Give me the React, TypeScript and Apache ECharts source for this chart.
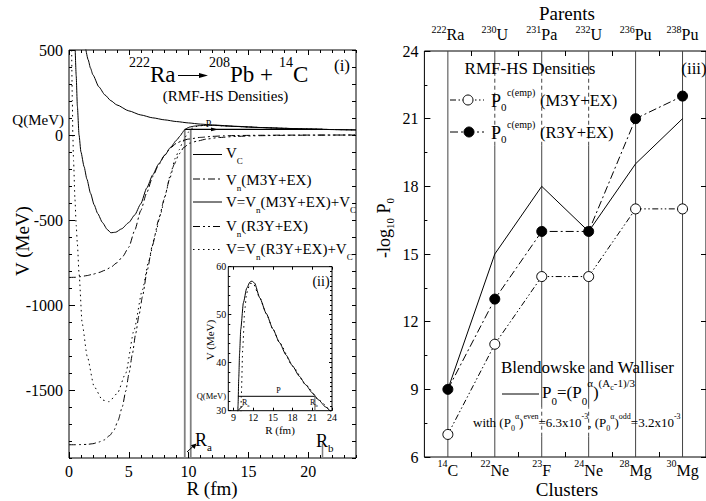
import React, { useEffect, useRef } from 'react';
import * as echarts from 'echarts';

const FONT = "Liberation Serif, Tinos, Times New Roman, DejaVu Serif, serif";

// ---------------- Panel (i): potentials, R (fm) vs V (MeV) ----------------
const vcR = [1.4, 1.6, 1.8, 2, 2.5, 3, 3.5, 4, 5, 6, 7, 8, 9, 10, 11, 12, 14, 16, 18, 20, 22, 24];
const vcV = [506, 443, 393, 354, 283, 236, 202, 177, 142, 118, 101, 89, 79, 71, 64, 59, 51, 44, 39, 35, 32, 30];

const vnM3yR = [0, 0.5, 1, 1.5, 2, 2.5, 3, 3.5, 4, 4.5, 5, 5.5, 6, 6.5, 7, 7.5, 8, 8.5, 9, 9.5, 10, 11, 12, 13, 14, 16, 18, 20, 24];
const vnM3yV = [-838, -837, -833, -827, -819, -809, -796, -778, -752, -714, -660, -560, -445, -340, -245, -175, -118, -75, -48, -32, -24, -14, -8, -5, -3, -1.5, -0.8, -0.4, 0];

const vM3yR = [0.52, 0.6, 0.7, 0.84, 1.0, 1.26, 1.5, 1.8, 2.1, 2.4, 2.8, 3.2, 3.5, 3.9, 4.4, 5.0, 5.5, 6.0, 6.5, 7.0, 7.5, 8.0, 8.5, 9.0, 9.3, 9.5, 9.6, 9.68, 9.8, 9.92, 10.1, 10.5, 11, 11.5, 11.8, 12.2, 13, 14, 15, 16, 17, 18, 19, 20, 21, 22, 23, 24];
const vM3yV = [500, 350, 170, 0, -100, -186, -260, -343, -410, -462, -515, -556, -575, -572, -552, -515, -470, -405, -312, -235, -170, -120, -72, -30, -5, 15, 26, 31, 37, 42, 47, 52.5, 55.5, 56.8, 57, 56.6, 53.5, 50.2, 47, 44.2, 41.6, 39.3, 37.2, 35.4, 33.7, 32.2, 30.8, 29.5];

const vnR3yR = [0, 0.5, 1, 1.5, 2, 2.5, 2.93, 3.4, 3.77, 4.1, 4.46, 4.75, 5.02, 5.3, 5.58, 5.86, 6.14, 6.55, 6.97, 7.5, 7.95, 8.4, 8.8, 9.2, 9.62, 10.1, 10.7, 11.5, 12.5, 14, 16, 18, 20, 24];
const vnR3yV = [-1822, -1822, -1821, -1820, -1816, -1806, -1794, -1768, -1735, -1680, -1598, -1505, -1402, -1288, -1167, -1058, -951, -794, -650, -500, -380, -262, -172, -112, -72, -48, -36, -24, -15, -8, -4, -2, -1, 0];

const vR3yR = [0.22, 0.28, 0.32, 0.38, 0.5, 0.6, 0.7, 0.84, 1.1, 1.53, 2.1, 2.8, 3.35, 4.04, 4.74, 5.44, 6.13, 6.69, 7.2, 7.67, 8.1, 8.5, 8.9, 9.2, 9.5, 9.8, 10.0, 10.18, 10.4, 10.7, 11.0, 11.5, 12, 13, 14, 15, 16, 18, 20, 22, 24];
const vR3yV = [500, 200, 0, -150, -380, -530, -640, -814, -1108, -1304, -1480, -1559, -1569, -1520, -1402, -1147, -912, -735, -590, -461, -340, -225, -135, -88, -45, -5, 18, 33, 43, 51, 54.5, 56.5, 56.5, 53.5, 50.2, 47, 44.2, 39.3, 35.4, 32.2, 29.5];

const Q_VALUE = 33;
const R_A = [9.68, 10.18];
const R_B = 21.2;

const mainXMajor = [0, 5, 10, 15, 20];
const mainYMajor = [-1500, -1000, -500, 0, 500];
const insetXTicks = [9, 12, 15, 18, 21, 24];

// ---------------- Panel (iii): -log10 P0 per cluster ----------------
const clusterMass = ['14', '22', '23', '24', '28', '30'];
const clusterSym = ['C', 'Ne', 'F', 'Ne', 'Mg', 'Mg'];
const parentMass = ['222', '230', '231', '232', '236', '238'];
const parentSym = ['Ra', 'U', 'Pa', 'U', 'Pu', 'Pu'];
const logP0M3Y = [7, 11, 14, 14, 17, 17];
const logP0R3Y = [9, 13, 16, 16, 21, 22];
const logP0BW = [9, 15, 18, 16, 19, 21];
const catPos = [1, 2, 3, 4, 5, 6];

const DASH_DOT = [7, 3, 2, 3];
const DASH_DOT_DOT = [7, 3, 2, 3, 2, 3];
const DOT = [1.5, 3.5];

function pairs(xs: number[], ys: number[]) {
  return xs.map((x, i) => [x, ys[i]]);
}

function curve(xi: number, yi: number, data: number[][], dash: any, opts: any = {}) {
  return {
    type: 'line', xAxisIndex: xi, yAxisIndex: yi, data,
    symbol: 'none', smooth: opts.smooth ?? 0.2, smoothMonotone: 'x', clip: true, silent: true,
    lineStyle: { color: opts.color ?? '#000', width: opts.width ?? 1, type: dash },
    z: opts.z ?? 3,
  };
}

function vAxis(extra: any) {
  return {
    type: 'value',
    axisLine: { show: false, onZero: false },
    splitLine: { show: false },
    axisLabel: { show: false },
    axisTick: { show: false },
    ...extra,
  };
}

const tickStyle = { color: '#000', width: 1 };
const num = (v: number) => String(v);

function richFor(b: number, off: number) {
  const f = Math.round(b * 0.62);
  return {
    lh: 2 * off + f,
    rich: {
      s: { fontSize: f, fontFamily: FONT, fill: '#000', verticalAlign: 'bottom' },
      p: { fontSize: f, fontFamily: FONT, fill: '#000', verticalAlign: 'top' },
      c: { fontSize: Math.round(f * 0.75), fontFamily: FONT, fill: '#000', verticalAlign: 'top', padding: [Math.round(f * 0.55), 0, 0, 0] },
    },
  };
}

function T(x: number, y: number, text: string, size: number, o: any = {}) {
  const hasRich = text.indexOf('{') >= 0;
  const r = richFor(size, o.off ?? Math.round(size * 0.35));
  const style: any = {
    text, fontSize: size, fontFamily: FONT, fill: '#000',
    align: o.align ?? 'left', verticalAlign: 'middle',
    lineHeight: hasRich ? r.lh : Math.round(size * 1.1),
  };
  if (hasRich) style.rich = r.rich;
  return { type: 'text', x, y, rotation: o.rot ?? 0, z: 100, silent: true, style };
}

function L(x1: number, y1: number, x2: number, y2: number, dash?: number[], width = 1, color = '#000') {
  return { type: 'line', z: 100, silent: true, shape: { x1, y1, x2, y2 }, style: { stroke: color, lineWidth: width, lineDash: dash } };
}

function P(points: number[][]) {
  return { type: 'polygon', z: 100, silent: true, shape: { points }, style: { fill: '#000' } };
}

function buildOption() {
  const series: any[] = [];
  // panel (i)
  series.push(curve(0, 0, pairs(vcR, vcV), 'solid'));
  series.push(curve(0, 0, pairs(vnM3yR, vnM3yV), DASH_DOT));
  series.push(curve(0, 0, pairs(vM3yR, vM3yV), 'solid'));
  series.push(curve(0, 0, pairs(vnR3yR, vnR3yV), DASH_DOT_DOT));
  series.push(curve(0, 0, pairs(vR3yR, vR3yV), DOT));
  series.push(curve(0, 0, [[R_A[0], Q_VALUE], [R_B, Q_VALUE]], 'solid', { smooth: false, width: 1.2 }));
  R_A.forEach((r) => series.push(curve(0, 0, [[r, Q_VALUE], [r, -1900]], 'solid', { smooth: false, color: '#808080', width: 1.8, z: 2 })));
  series.push(curve(0, 0, [[R_B, -1815], [R_B, -1900]], 'solid', { smooth: false, color: '#808080', width: 1.5, z: 2 }));
  // inset (ii)
  series.push(curve(4, 3, pairs(vM3yR, vM3yV), 'solid'));
  series.push(curve(4, 3, pairs(vR3yR, vR3yV), DOT));
  series.push(curve(4, 3, [[9.67, Q_VALUE], [21.4, Q_VALUE]], 'solid', { smooth: false }));
  series.push(curve(4, 3, [[21.4, Q_VALUE], [21.4, 30]], 'solid', { smooth: false, color: '#555' }));
  // panel (iii) vertical category lines (dashed where legends sit)
  const bandTop = [19.8, 22.9];
  const bandBottom = [6.9, 8.2];
  catPos.forEach((c) => {
    const cuts: number[] = [6];
    const dashed: number[][] = [];
    if (c === 3 || c === 4) { cuts.push(bandBottom[0], bandBottom[1]); dashed.push(bandBottom); }
    if (c >= 2 && c <= 4) { cuts.push(bandTop[0], bandTop[1]); dashed.push(bandTop); }
    cuts.push(24);
    for (let k = 0; k < cuts.length; k += 2) {
      series.push(curve(6, 5, [[c, cuts[k]], [c, cuts[k + 1]]], 'solid', { smooth: false, color: '#444', z: 2 }));
    }
    dashed.forEach((b) => series.push(curve(6, 5, [[c, b[0]], [c, b[1]]], [4, 3], { smooth: false, color: '#444', z: 2 })));
  });
  series.push({ ...curve(6, 5, pairs(catPos, logP0BW), 'solid', { smooth: false }) });
  series.push({
    ...curve(6, 5, pairs(catPos, logP0M3Y), [6, 2.5, 1.5, 2.5, 1.5, 2.5], { smooth: false }),
    symbol: 'circle', symbolSize: 10, showSymbol: true,
    itemStyle: { color: '#fff', borderColor: '#000', borderWidth: 1 },
  });
  series.push({
    ...curve(6, 5, pairs(catPos, logP0R3Y), [8, 3, 2, 3], { smooth: false }),
    symbol: 'circle', symbolSize: 10, showSymbol: true,
    itemStyle: { color: '#000', borderColor: '#000', borderWidth: 1 },
  });

  const catRich = { p: { fontSize: 10, fontFamily: FONT, verticalAlign: 'top', color: '#000' } };

  const xAxis = [
    vAxis({ gridIndex: 0, min: 0, max: 24, position: 'bottom',
      axisTick: { show: true, inside: true, length: 6, customValues: mainXMajor, lineStyle: tickStyle },
      axisLabel: { show: true, customValues: mainXMajor, fontSize: 16, margin: 5, fontFamily: FONT, color: '#000', formatter: num } }),
    vAxis({ gridIndex: 0, min: 0, max: 24, interval: 1, position: 'bottom', axisTick: { show: true, inside: true, length: 3, lineStyle: tickStyle } }),
    vAxis({ gridIndex: 0, min: 0, max: 24, interval: 1, position: 'top', axisTick: { show: true, inside: true, length: 3, lineStyle: tickStyle } }),
    vAxis({ gridIndex: 0, min: 0, max: 24, position: 'top', axisTick: { show: true, inside: true, length: 5, customValues: mainXMajor, lineStyle: tickStyle } }),
    vAxis({ gridIndex: 1, min: 8.2, max: 24, position: 'bottom',
      axisTick: { show: true, inside: true, length: 3, customValues: insetXTicks, lineStyle: tickStyle },
      axisLabel: { show: true, customValues: insetXTicks, fontSize: 10, margin: 2, fontFamily: FONT, color: '#000', formatter: num } }),
    vAxis({ gridIndex: 1, min: 8.2, max: 24, position: 'top', axisTick: { show: true, inside: true, length: 3, customValues: insetXTicks, lineStyle: tickStyle } }),
    vAxis({ gridIndex: 2, min: 0.5, max: 6.5, position: 'bottom',
      axisTick: { show: true, inside: true, length: 5, customValues: [1.5, 2.5, 3.5, 4.5, 5.5], lineStyle: tickStyle },
      axisLabel: { show: true, customValues: catPos, fontSize: 16, lineHeight: 25, margin: 1, fontFamily: FONT, color: '#000', rich: catRich,
        formatter: (v: number) => { const i = Math.round(v) - 1; return `{p|${clusterMass[i]}}${clusterSym[i]}`; } } }),
    vAxis({ gridIndex: 2, min: 0.5, max: 6.5, position: 'top',
      axisTick: { show: true, inside: true, length: 5, customValues: [1.5, 2.5, 3.5, 4.5, 5.5], lineStyle: tickStyle },
      axisLabel: { show: true, customValues: catPos, fontSize: 16, lineHeight: 20, margin: 7, fontFamily: FONT, color: '#000', rich: catRich,
        formatter: (v: number) => { const i = Math.round(v) - 1; return `{p|${parentMass[i]}}${parentSym[i]}`; } } }),
  ];

  const yAxis = [
    vAxis({ gridIndex: 0, min: -1900, max: 500, position: 'left',
      axisTick: { show: true, inside: true, length: 6, customValues: mainYMajor, lineStyle: tickStyle },
      axisLabel: { show: true, customValues: mainYMajor, fontSize: 16, margin: 6, fontFamily: FONT, color: '#000', formatter: num } }),
    vAxis({ gridIndex: 0, min: -1900, max: 500, interval: 100, position: 'left', axisTick: { show: true, inside: true, length: 3, lineStyle: tickStyle } }),
    vAxis({ gridIndex: 0, min: -1900, max: 500, interval: 100, position: 'right', axisTick: { show: true, inside: true, length: 4, lineStyle: tickStyle } }),
    vAxis({ gridIndex: 1, min: 30, max: 60, interval: 10, position: 'left',
      axisTick: { show: true, inside: true, length: 3, lineStyle: tickStyle },
      minorTick: { show: true, splitNumber: 5, length: 2, lineStyle: tickStyle },
      axisLabel: { show: true, fontSize: 10, margin: 2, fontFamily: FONT, color: '#000', formatter: num } }),
    vAxis({ gridIndex: 1, min: 30, max: 60, interval: 10, position: 'right',
      axisTick: { show: true, inside: true, length: 3, lineStyle: tickStyle },
      minorTick: { show: true, splitNumber: 10, length: 2, lineStyle: tickStyle } }),
    vAxis({ gridIndex: 2, min: 6, max: 24, interval: 3, position: 'left',
      axisTick: { show: true, inside: true, length: 6, lineStyle: tickStyle },
      minorTick: { show: true, splitNumber: 2, length: 3, lineStyle: tickStyle },
      axisLabel: { show: true, fontSize: 16, margin: 6, fontFamily: FONT, color: '#000', formatter: num } }),
    vAxis({ gridIndex: 2, min: 6, max: 24, interval: 3, position: 'right',
      axisTick: { show: true, inside: true, length: 5, lineStyle: tickStyle } }),
  ];

  const g: any[] = [
    // panel (i) title, split so superscripts stay clear of the subtitle
    T(150, 62, '222', 14, { align: 'right' }),
    T(150, 74, 'Ra', 23),
    L(178, 75.5, 202, 75.5),
    P([[199, 73], [208, 75.5], [199, 78]]),
    T(230, 62, '208', 14, { align: 'right' }),
    T(230, 74, 'Pb +', 23),
    T(293, 62, '14', 14, { align: 'right' }),
    T(293, 74, 'C', 23),
    T(225.5, 95.5, '(RMF-HS Densities)', 15, { align: 'center' }),
    T(342, 65, '(i)', 17, { align: 'center' }),
    T(64, 120, 'Q(MeV)', 15, { align: 'right' }),
    T(208.5, 123.5, 'P', 10, { align: 'center' }),
    P([[211, 127.6], [218, 129.4], [211, 131.2]]),
    T(22, 241, 'V (MeV)', 19, { align: 'center', rot: Math.PI / 2 }),
    T(212, 488, 'R (fm)', 19, { align: 'center' }),
    T(195, 440, 'R{s|a}', 18, { off: 7 }),
    T(316, 441, 'R{s|b}', 18, { off: 7 }),
    L(187, 452, 194, 445.5),
    P([[196.5, 443.5], [194.6, 449], [190.8, 445.2]]),
    // legend of panel (i)
    L(193, 154.5, 222, 154.5),
    T(226, 153, 'V{s|C}', 15, { off: 8 }),
    L(193, 179, 222, 179, DASH_DOT),
    T(226, 179.5, 'V{s|n}(M3Y+EX)', 15, { off: 8 }),
    L(193, 202, 222, 202),
    T(226, 202, 'V=V{s|n}(M3Y+EX)+V{s|C}', 15, { off: 8 }),
    L(193, 226.5, 222, 226.5, DASH_DOT_DOT),
    T(226, 226, 'V{s|n}(R3Y+EX)', 15, { off: 8 }),
    L(193, 249.5, 222, 249.5, DOT),
    T(226, 249, 'V=V{s|n}(R3Y+EX)+V{s|C}', 15, { off: 8 }),
    // inset (ii)
    T(321, 281, '(ii)', 14, { align: 'center' }),
    T(210, 340, 'V (MeV)', 11, { align: 'center', rot: Math.PI / 2 }),
    T(280, 430, 'R (fm)', 11, { align: 'center' }),
    T(226, 396, 'Q(MeV)', 8.5, { align: 'right' }),
    T(278.5, 390, 'P', 8, { align: 'center' }),
    T(242, 402, 'R{s|a}', 8, { off: 3 }),
    T(310, 402, 'R{s|b}', 8, { off: 3 }),
    L(238.5, 410, 243, 405.5),
    // panel (iii)
    T(567, 13, 'Parents', 19, { align: 'center' }),
    T(567, 489, 'Clusters', 19, { align: 'center' }),
    T(384, 228, '-log{s|10} P{s|0}', 18, { align: 'center', rot: Math.PI / 2, off: 6 }),
    T(530, 68, 'RMF-HS Densities', 17, { align: 'center' }),
    T(694, 68, '(iii)', 17, { align: 'center' }),
    L(450, 100, 484, 100, [6, 2.5, 1.5, 2.5, 1.5, 2.5]),
    { type: 'circle', z: 101, silent: true, shape: { cx: 468, cy: 100, r: 5 }, style: { fill: '#fff', stroke: '#000', lineWidth: 1 } },
    T(491, 101, 'P{s|0}', 18, { off: 6 }),
    T(507, 92, 'c(emp)', 10),
    T(540, 100, '(M3Y+EX)', 16.5),
    L(450, 132, 484, 132, [8, 3, 2, 3]),
    { type: 'circle', z: 101, silent: true, shape: { cx: 469, cy: 132, r: 5 }, style: { fill: '#000', stroke: '#000', lineWidth: 1 } },
    T(491, 133, 'P{s|0}', 18, { off: 6 }),
    T(507, 124, 'c(emp)', 10),
    T(540, 132, '(R3Y+EX)', 16.5),
    T(587.5, 367, 'Blendowske and Walliser', 17, { align: 'center' }),
    L(502, 394, 539, 394),
    T(542, 392, 'P{s|0}=(P{s|0}{p|α}){p|(A}{c|c}{p|-1)/3}', 17, { off: 9 }),
    T(473, 422, 'with (P{s|0}{p|α}){p|even}=6.3x10{p|-3}, (P{s|0}{p|α}){p|odd}=3.2x10{p|-3}', 13, { off: 6 }),
  ];

  return {
    animation: false,
    backgroundColor: '#fff',
    textStyle: { fontFamily: FONT },
    grid: [
      { left: 69, top: 50, width: 287, height: 408, show: true, borderColor: '#000', borderWidth: 1, backgroundColor: 'transparent' },
      { left: 228.3, top: 266.7, width: 103.7, height: 144, show: true, borderColor: '#000', borderWidth: 1, backgroundColor: '#fff' },
      { left: 424.4, top: 51, width: 286.2, height: 406, show: true, borderColor: '#000', borderWidth: 1, backgroundColor: 'transparent' },
    ],
    xAxis,
    yAxis,
    series,
    graphic: g,
  };
}

export default function App() {
  const ref = useRef<HTMLDivElement>(null);
  useEffect(() => {
    const chart = echarts.init(ref.current as HTMLDivElement, null, { renderer: 'svg' });
    chart.setOption(buildOption() as any);
    return () => chart.dispose();
  }, []);
  return <div ref={ref} style={{ position: 'fixed', left: 0, top: 0, width: 706, height: 501, background: '#fff' }} />;
}
